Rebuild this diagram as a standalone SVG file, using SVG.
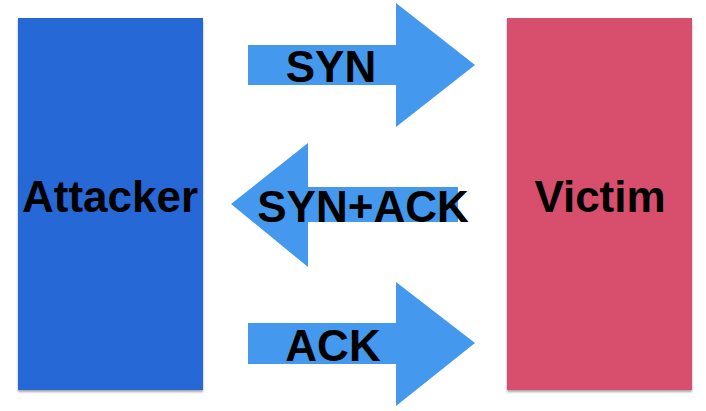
<svg xmlns="http://www.w3.org/2000/svg" width="706" height="411" viewBox="0 0 706 411">
<defs>
<style>
.lbl{font-family:"Liberation Sans",Arial,sans-serif;font-weight:bold;font-size:44px;fill:#000;text-anchor:middle}
.arrow{fill:#4499EE}
</style>
<filter id="sh" x="-10%" y="-10%" width="120%" height="120%">
<feDropShadow dx="0" dy="2" stdDeviation="1.2" flood-color="#000" flood-opacity="0.35"/>
</filter>
</defs>
<rect width="706" height="411" fill="#fff"/>
<g id="attacker">
<rect x="18" y="18" width="185" height="372" fill="#2868D6" filter="url(#sh)"/>
<text class="lbl" x="110" y="212">Attacker</text>
</g>
<g id="victim">
<rect x="507" y="18" width="185" height="372" fill="#D8506D" filter="url(#sh)"/>
<text class="lbl" x="600" y="212">Victim</text>
</g>
<g id="connectors">
<g id="syn">
<polygon class="arrow" points="248,45 396,45 396,3 475,65 396,127 396,85 248,85"/>
<text class="lbl" x="331" y="82">SYN</text>
</g>
<g id="synack">
<polygon class="arrow" points="458,187 308,187 308,143 231,204 308,267 308,222 458,222"/>
<text class="lbl" x="363" y="222">SYN+ACK</text>
</g>
<g id="ack">
<polygon class="arrow" points="248,323 396,323 396,282 475,343 396,406 396,364 248,364"/>
<text class="lbl" x="333" y="361">ACK</text>
</g>
</g>
</svg>
